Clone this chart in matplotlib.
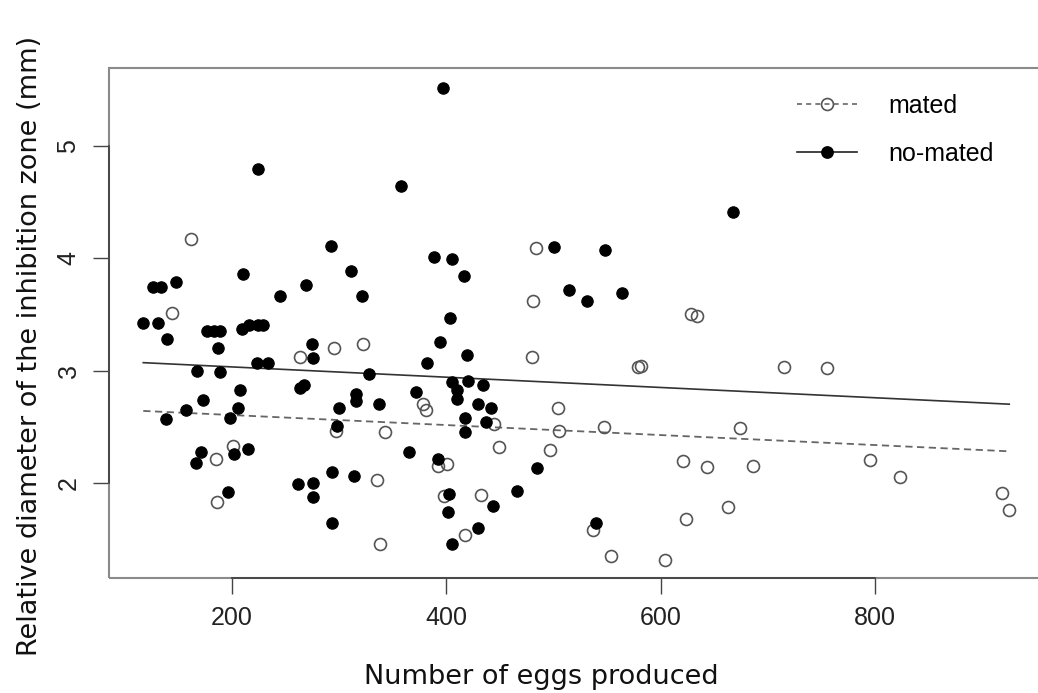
import matplotlib
matplotlib.use("Agg")
import matplotlib.pyplot as plt
from matplotlib.lines import Line2D
from matplotlib.patches import Rectangle

# mated females: eggs produced vs. relative inhibition zone diameter
mated_eggs = [161.5, 143.7, 263.5, 295.0, 322.0, 297.0, 201.2, 184.8, 185.7,
              378.0, 380.8, 342.8, 444.6, 449.5, 392.6, 400.4, 335.6, 397.9,
              432.4, 417.5, 338.2, 483.5, 481.2, 479.7, 504.5, 505.5, 496.5,
              628.4, 633.7, 579.2, 581.5, 547.5, 674.2, 620.7, 643.6, 686.0,
              663.3, 623.5, 537.2, 553.5, 604.2, 715.2, 755.7, 795.5, 823.5,
              918.4, 925.5]
mated_zone = [4.17, 3.51, 3.12, 3.20, 3.24, 2.46, 2.33, 2.21, 1.83,
              2.70, 2.65, 2.45, 2.52, 2.32, 2.15, 2.17, 2.02, 1.88,
              1.89, 1.53, 1.45, 4.09, 3.62, 3.12, 2.67, 2.46, 2.29,
              3.50, 3.49, 3.03, 3.04, 2.50, 2.49, 2.19, 2.14, 2.15,
              1.78, 1.68, 1.58, 1.35, 1.31, 3.03, 3.02, 2.20, 2.05,
              1.91, 1.76]

# no-mated females
nomated_eggs = [224.6, 292.2, 210.6, 126.6, 133.8, 147.7, 244.8, 268.8, 117.2,
                130.6, 139.6, 176.4, 183.5, 189.0, 187.2, 209.5, 215.5, 224.0,
                229.0, 275.0, 275.9, 223.1, 233.3, 167.7, 188.8, 207.5, 263.5,
                267.2, 172.7, 157.1, 138.1, 205.9, 198.1, 299.5, 298.3, 171.1,
                166.4, 202.2, 215.2, 261.9, 275.3, 275.3, 196.6, 293.6, 293.6,
                397.3, 357.8, 310.8, 321.6, 388.6, 405.1, 416.5, 500.8, 403.5,
                394.2, 419.0, 382.3, 327.9, 315.7, 315.7, 337.5, 371.7, 405.1,
                420.6, 434.0, 409.7, 409.7, 429.9, 441.5, 417.5, 436.8, 417.5,
                365.5, 392.6, 314.2, 402.6, 401.9, 405.1, 429.9, 443.3, 465.7,
                484.4, 667.3, 548.2, 514.8, 531.0, 563.7, 539.8]
nomated_zone = [4.80, 4.11, 3.86, 3.74, 3.74, 3.79, 3.66, 3.76, 3.42,
                3.42, 3.28, 3.35, 3.35, 3.35, 3.20, 3.37, 3.41, 3.41,
                3.41, 3.24, 3.11, 3.07, 3.07, 3.00, 2.99, 2.83, 2.84,
                2.87, 2.74, 2.65, 2.57, 2.67, 2.58, 2.67, 2.51, 2.27,
                2.18, 2.26, 2.30, 1.99, 2.00, 1.87, 1.92, 2.10, 1.64,
                5.52, 4.64, 3.89, 3.66, 4.01, 3.99, 3.84, 4.10, 3.47,
                3.25, 3.14, 3.07, 2.97, 2.79, 2.73, 2.70, 2.81, 2.90,
                2.91, 2.87, 2.83, 2.75, 2.70, 2.67, 2.58, 2.54, 2.45,
                2.27, 2.21, 2.06, 1.90, 1.74, 1.45, 1.60, 1.79, 1.93,
                2.13, 4.41, 4.07, 3.72, 3.62, 3.69, 1.64]

# fitted regression lines (end points)
fit_eggs = [117.2, 925.5]
mated_fit = [2.64, 2.28]
nomated_fit = [3.07, 2.70]

x_ticks = [200, 400, 600, 800]
y_ticks = [2, 3, 4, 5]

W, H = 1038, 693
fig = plt.figure(figsize=(W / 100, H / 100), dpi=100)
ax = fig.add_axes([109 / W, 1 - 578 / H, (1040 - 109) / W, (578 - 68) / H])

ax.set_xlim(85.2, 954.2)
ax.set_ylim(1.151, 5.696)

ax.plot(fit_eggs, mated_fit, color="#666666", lw=1.3, dashes=(4, 2.5))
ax.plot(fit_eggs, nomated_fit, color="#333333", lw=1.2)

ax.plot(mated_eggs, mated_zone, ls="none", marker="o", ms=8.6,
        mfc="none", mec="#555555", mew=1.2)
ax.plot(nomated_eggs, nomated_zone, ls="none", marker="o", ms=8.2,
        mfc="black", mec="black", mew=0.8)

# light box around the plot region, darker axis lines over the tick range
ax.add_patch(Rectangle((0, 0), 1, 1, transform=ax.transAxes, fill=False,
                       ec="#8a8a8a", lw=1.5, clip_on=False, zorder=5))
for side in ["top", "right"]:
    ax.spines[side].set_visible(False)
ax.spines["bottom"].set_bounds(200, 800)
ax.spines["left"].set_bounds(2, 5)
for side in ["bottom", "left"]:
    ax.spines[side].set_color("#444444")
    ax.spines[side].set_linewidth(1.3)
    ax.spines[side].set_zorder(6)

ax.set_xticks(x_ticks)
ax.set_yticks(y_ticks)
ax.tick_params(length=11.5, width=1.0, color="#444444", labelcolor="#222222",
               labelsize=18, pad=9)
ax.tick_params(axis="y", labelrotation=90)
for lab in ax.get_xticklabels() + ax.get_yticklabels():
    lab.set_family("Liberation Sans")
for lab in ax.get_yticklabels():
    lab.set_va("center")

fig.text(541 / W, 1 - 677 / H, "Number of eggs produced", ha="center",
         va="center", fontsize=19.5, family="DejaVu Sans", color="#111111")
fig.text(30 / W, 1 - 346 / H, "Relative diameter of the inhibition zone (mm)",
         ha="center", va="center", rotation=90, fontsize=19.5,
         family="DejaVu Sans", color="#111111")

handles = [
    Line2D([], [], color="#666666", lw=1.2, dashes=(3, 2.5), marker="o",
           ms=8.6, mfc="none", mec="#555555", mew=1.2),
    Line2D([], [], color="#222222", lw=1.2, marker="o", ms=8.2,
           mfc="black", mec="black"),
]
ax.legend(handles, ["mated", "no-mated"], loc="upper left",
          bbox_to_anchor=(797 / W, 1 - 94 / H), bbox_transform=fig.transFigure,
          frameon=False, borderpad=0, borderaxespad=0, handlelength=2.4,
          handletextpad=1.25, labelspacing=0.95,
          prop={"family": "Liberation Sans", "size": 18})

fig.savefig("out.png", dpi=100)
